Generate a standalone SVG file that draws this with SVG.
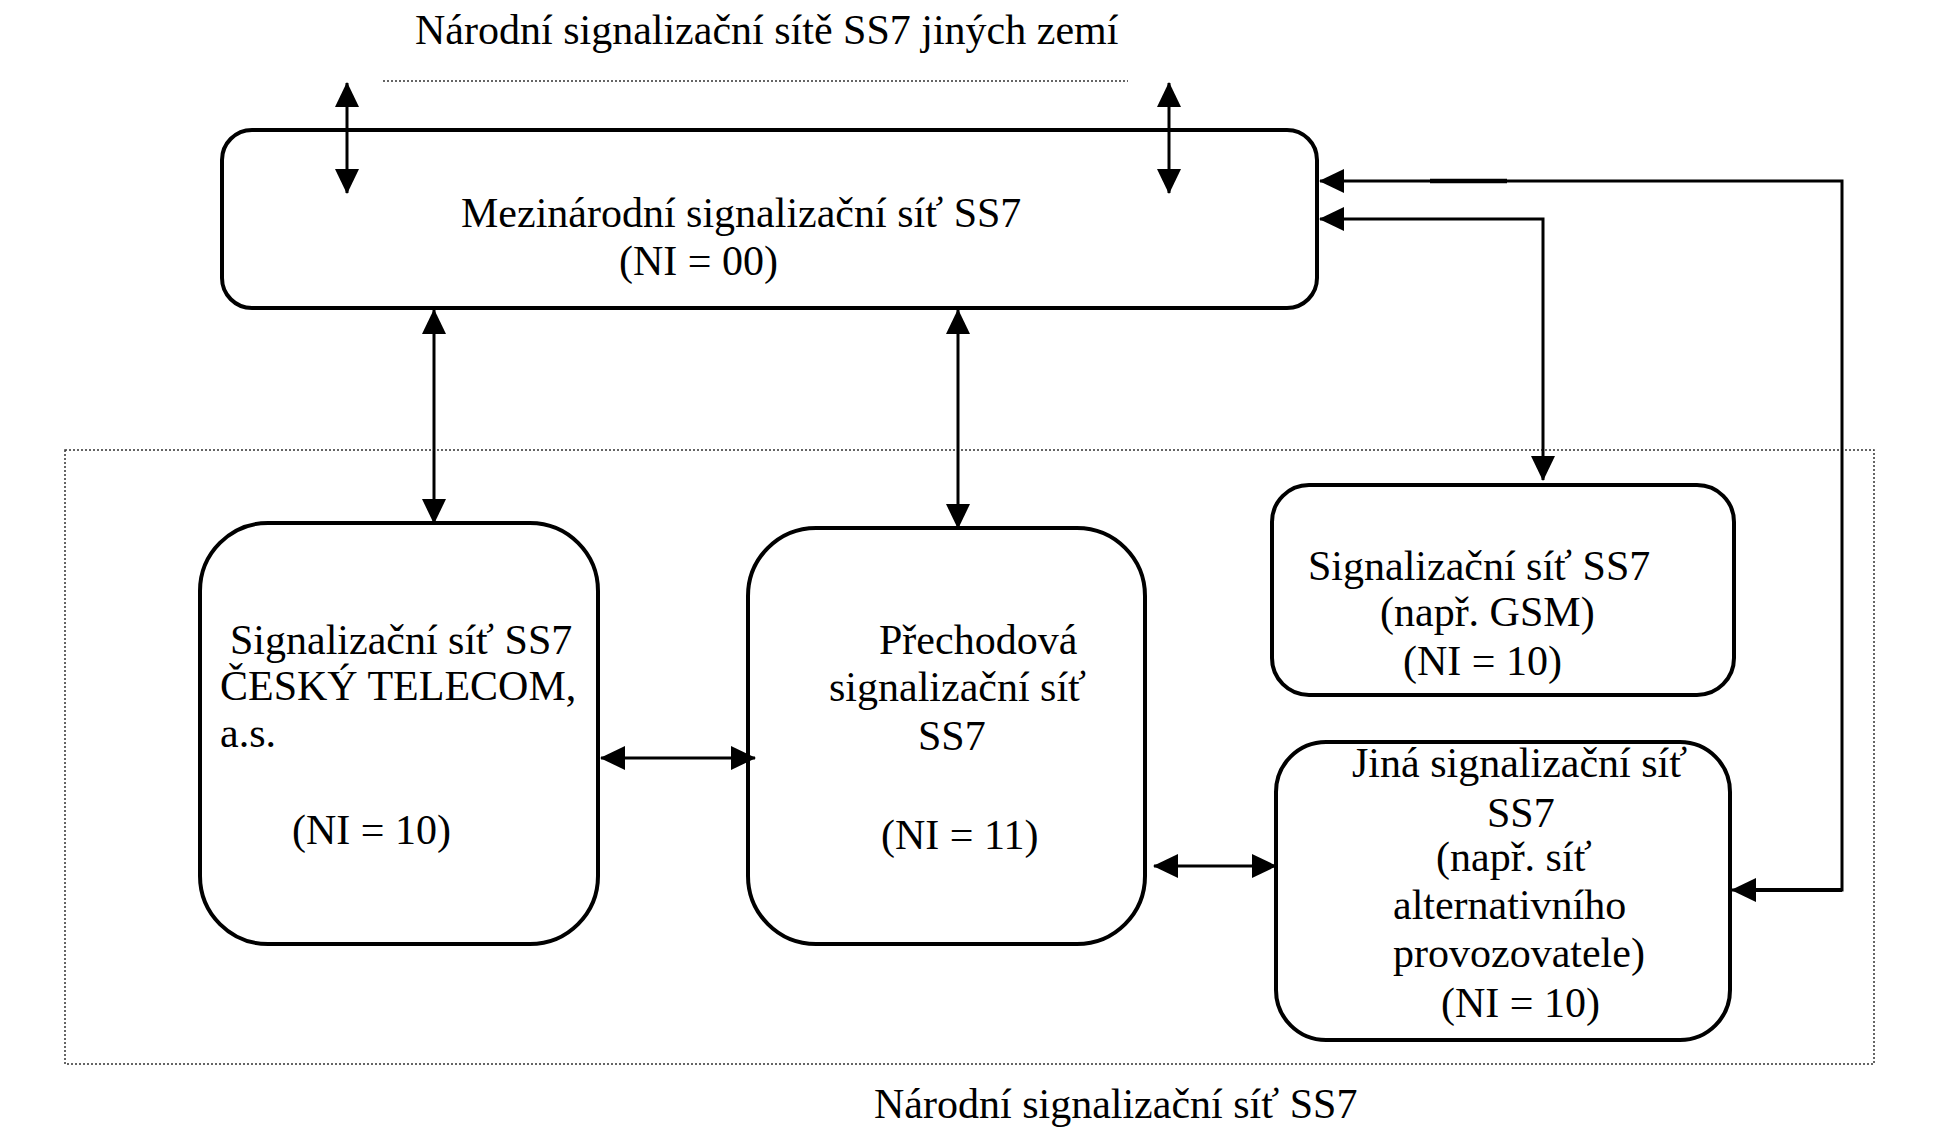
<svg xmlns="http://www.w3.org/2000/svg" width="1935" height="1145" viewBox="0 0 1935 1145">
<style>
text{font-family:"Liberation Serif","Times New Roman",serif;font-size:42px;fill:#000}
.box{fill:#fff;stroke:#000;stroke-width:4}
.con{fill:none;stroke:#000;stroke-width:3}
.dot{fill:none;stroke:#333;stroke-width:1.5;stroke-dasharray:2 2}
</style>
<defs>
<marker id="ah" viewBox="0 0 25 24" refX="24" refY="12" markerWidth="25" markerHeight="24" markerUnits="userSpaceOnUse" orient="auto-start-reverse">
<path d="M0,0 L25,12 L0,24 z" fill="#000"/>
</marker>
</defs>
<rect width="1935" height="1145" fill="#fff"/>
<g id="labels">
<text x="415" y="44">Národní signalizační sítě SS7 jiných zemí</text>
<line class="dot" x1="383" y1="81" x2="1128" y2="81"/>
<rect class="dot" x="65" y="450" width="1809" height="614"/>
<text x="874" y="1118">Národní signalizační síť SS7</text>
</g>
<g id="mezinarodni">
<rect class="box" x="222" y="130" width="1095" height="178" rx="30"/>
<text x="461" y="227">Mezinárodní signalizační síť SS7</text>
<text x="619" y="275">(NI = 00)</text>
</g>
<g id="cesky">
<rect class="box" x="200" y="523" width="398" height="421" rx="68"/>
<text x="230" y="654">Signalizační síť SS7</text>
<text x="220" y="700">ČESKÝ TELECOM,</text>
<text x="220" y="747">a.s.</text>
<text x="292" y="844">(NI = 10)</text>
</g>
<g id="prechodova">
<rect class="box" x="748" y="528" width="397" height="416" rx="68"/>
<text x="879" y="654">Přechodová</text>
<text x="829" y="701">signalizační síť</text>
<text x="918" y="750">SS7</text>
<text x="881" y="849">(NI = 11)</text>
</g>
<g id="gsm">
<rect class="box" x="1272" y="485" width="462" height="210" rx="37"/>
<text x="1308" y="580">Signalizační síť SS7</text>
<text x="1380" y="626">(např. GSM)</text>
<text x="1403" y="675">(NI = 10)</text>
</g>
<g id="jina">
<rect class="box" x="1276" y="742" width="454" height="298" rx="50"/>
<text x="1352" y="777">Jiná signalizační síť</text>
<text x="1487" y="827">SS7</text>
<text x="1436" y="871">(např. síť</text>
<text x="1393" y="919">alternativního</text>
<text x="1393" y="967">provozovatele)</text>
<text x="1441" y="1017">(NI = 10)</text>
</g>
<g id="connectors">
<line class="con" x1="347" y1="83" x2="347" y2="193" marker-start="url(#ah)" marker-end="url(#ah)"/>
<line class="con" x1="1169" y1="83" x2="1169" y2="193" marker-start="url(#ah)" marker-end="url(#ah)"/>
<line class="con" x1="434" y1="310" x2="434" y2="523" marker-start="url(#ah)" marker-end="url(#ah)"/>
<line class="con" x1="958" y1="310" x2="958" y2="528" marker-start="url(#ah)" marker-end="url(#ah)"/>
<line class="con" x1="601" y1="758" x2="755" y2="758" marker-start="url(#ah)" marker-end="url(#ah)"/>
<line class="con" x1="1154" y1="866" x2="1276" y2="866" marker-start="url(#ah)" marker-end="url(#ah)"/>
<path class="con" d="M1320,219 H1543 V480" marker-start="url(#ah)" marker-end="url(#ah)"/>
<path class="con" d="M1320,181 H1842 V890 H1732" marker-start="url(#ah)" marker-end="url(#ah)"/>
<line x1="1430" y1="181" x2="1507" y2="181" stroke="#000" stroke-width="4.5"/>
<line x1="1755" y1="890" x2="1842" y2="890" stroke="#000" stroke-width="4"/>
</g>
</svg>
